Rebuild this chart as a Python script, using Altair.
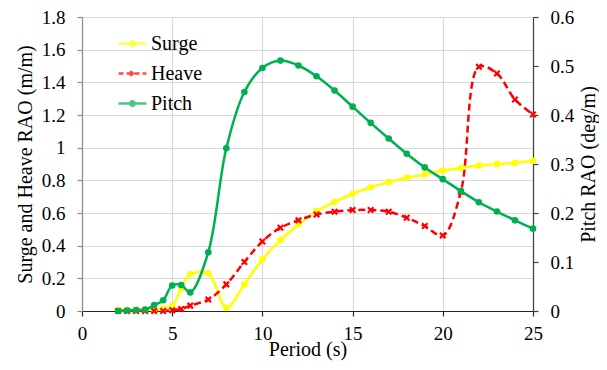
import altair as alt
import pandas as pd

# ---- data ----
period = [2, 2.5, 3, 3.5, 4, 4.5, 5, 5.5, 6, 7, 8, 9, 10, 11, 12, 13, 14, 15,
          16, 17, 18, 19, 20, 21, 22, 23, 24, 25]
surge = [0.005, 0.005, 0.006, 0.008, 0.01, 0.015, 0.03, 0.14, 0.225, 0.23,
         0.02, 0.163, 0.316, 0.434, 0.53, 0.612, 0.667, 0.718, 0.758, 0.789,
         0.816, 0.836, 0.86, 0.875, 0.891, 0.899, 0.907, 0.92]
heave = [0.0, 0.0, 0.0, 0.0, 0.0, 0.0, 0.005, 0.012, 0.033, 0.07, 0.163,
         0.3, 0.426, 0.51, 0.555, 0.591, 0.608, 0.618, 0.618, 0.608, 0.571,
         0.52, 0.462, 0.73, 1.495, 1.454, 1.295, 1.203]
pitch = [0.0, 0.001, 0.002, 0.003, 0.012, 0.022, 0.052, 0.053, 0.038, 0.12,
         0.332, 0.447, 0.496, 0.511, 0.501, 0.479, 0.45, 0.417, 0.384, 0.352,
         0.321, 0.293, 0.269, 0.245, 0.222, 0.203, 0.185, 0.168]

series_names = ["Surge", "Heave", "Pitch"]
series_colors = ["#FFFF00", "#FF0000", "#00B050"]

x_ticks = [0, 5, 10, 15, 20, 25]
left_ticks = [0, 0.2, 0.4, 0.6, 0.8, 1.0, 1.2, 1.4, 1.6, 1.8]
right_ticks = [0, 0.1, 0.2, 0.3, 0.4, 0.5, 0.6]

rows = []
for name, vals in zip(series_names, [surge, heave, pitch]):
    for p, v in zip(period, vals):
        rows.append({"Period": p, "Series": name, "Value": v})
df = pd.DataFrame(rows)

FONT = "Liberation Serif, Tinos, Times New Roman, DejaVu Serif, serif"
W, H = 451, 294
X_PATH = "M-1,-1L1,1M-1,1L1,-1"
LEG_DOT = "M-1,0L1,0M-0.16,0A0.16,0.16,0,1,1,0.16,0A0.16,0.16,0,1,1,-0.16,0Z"
LEG_X = "M-1,0L1,0M-0.17,-0.17L0.17,0.17M-0.17,0.17L0.17,-0.17"

x_enc = alt.X(
    "Period:Q",
    scale=alt.Scale(domain=[0, 25], nice=False),
    axis=alt.Axis(values=x_ticks, title="Period (s)", grid=True,
                  labelFont=FONT, titleFont=FONT, labelFlush=False,
                  domainColor="#262626", tickColor="#262626",
                  labelPadding=8, titleX=W / 2, titleY=38,
                  titleAlign="center", titleBaseline="middle"),
)
y_left = alt.Y(
    "Value:Q",
    scale=alt.Scale(domain=[0, 1.8], nice=False),
    axis=alt.Axis(values=left_ticks, format="~g",
                  title="Surge and Heave RAO (m/m)", grid=True,
                  labelFont=FONT, titleFont=FONT, labelFlush=False,
                  domainColor="#8c8c8c", tickColor="#8c8c8c",
                  labelPadding=12, titleAngle=270, titleX=-57, titleY=H / 2,
                  titleAlign="center", titleBaseline="middle"),
)
y_right = alt.Y(
    "Value:Q",
    scale=alt.Scale(domain=[0, 0.6], nice=False),
    axis=alt.Axis(values=right_ticks, format="~g", orient="right",
                  title="Pitch RAO (deg/m)", grid=False,
                  labelFont=FONT, titleFont=FONT, labelFlush=False,
                  domainColor="#404040", tickColor="#404040",
                  labelPadding=12, titleAngle=270, titleX=55, titleY=H / 2,
                  titleAlign="center", titleBaseline="middle"),
)

def sel(name):
    return alt.datum.Series == name

CURVE = "catmull-rom"

surge_line = alt.Chart().mark_line(
    color=series_colors[0], strokeWidth=2.5, interpolate=CURVE
).encode(x=x_enc, y=y_left).transform_filter(sel("Surge"))
surge_pts = alt.Chart().mark_point(
    color=series_colors[0], filled=True, shape="circle", size=44, opacity=1
).encode(x=x_enc, y=y_left).transform_filter(sel("Surge"))

heave_line = alt.Chart().mark_line(
    color=series_colors[1], strokeWidth=2.5, strokeDash=[7, 4],
    interpolate=CURVE
).encode(x=x_enc, y=y_left).transform_filter(sel("Heave"))
heave_pts = alt.Chart().mark_point(
    color=series_colors[1], filled=False, shape=X_PATH, size=30,
    strokeWidth=2.2, opacity=1
).encode(x=x_enc, y=y_left).transform_filter(sel("Heave"))

leg = alt.Legend(title=None, labelFont=FONT)
legend_layer = alt.Chart().mark_point(filled=False, strokeWidth=2.5).encode(
    color=alt.Color("Series:N",
                    scale=alt.Scale(domain=series_names, range=series_colors),
                    legend=leg),
    shape=alt.Shape("Series:N",
                    scale=alt.Scale(domain=series_names,
                                    range=[LEG_DOT, LEG_X, LEG_DOT]),
                    legend=leg),
    strokeDash=alt.StrokeDash("Series:N",
                              scale=alt.Scale(domain=series_names,
                                              range=[[1, 0], [5, 3], [1, 0]]),
                              legend=leg),
).transform_filter("false")

pitch_line = alt.Chart().mark_line(
    color=series_colors[2], strokeWidth=2.5, interpolate=CURVE
).encode(x=x_enc, y=y_right).transform_filter(sel("Pitch"))
pitch_pts = alt.Chart().mark_point(
    color=series_colors[2], filled=True, shape="circle", size=44, opacity=1
).encode(x=x_enc, y=y_right).transform_filter(sel("Pitch"))

left = alt.layer(surge_line, heave_line, surge_pts, heave_pts, legend_layer)
right = alt.layer(pitch_line, pitch_pts)

chart = alt.layer(left, right, data=df).resolve_scale(
    y="independent"
).properties(
    width=W, height=H,
    autosize=alt.AutoSizeParams(type="none"),
    padding={"left": 74, "top": 9, "right": 66, "bottom": 51},
).configure(
    font=FONT
).configure_view(
    stroke=None
).configure_axis(
    labelFont=FONT, labelFontSize=19, labelColor="black",
    titleFont=FONT, titleFontSize=20, titleFontWeight="normal",
    titleColor="black", gridColor="#d9d9d9", gridWidth=1.2,
    tickSize=5, domainWidth=1.2, tickWidth=1.2,
).configure_legend(
    orient="none", legendX=35, legendY=11, padding=0, rowPadding=4,
    labelFont=FONT, labelFontSize=20, labelColor="black", labelOffset=3,
    symbolSize=784, symbolStrokeWidth=2.5,
)

chart.save("out.html", embed_options={"renderer": "svg", "actions": False})
